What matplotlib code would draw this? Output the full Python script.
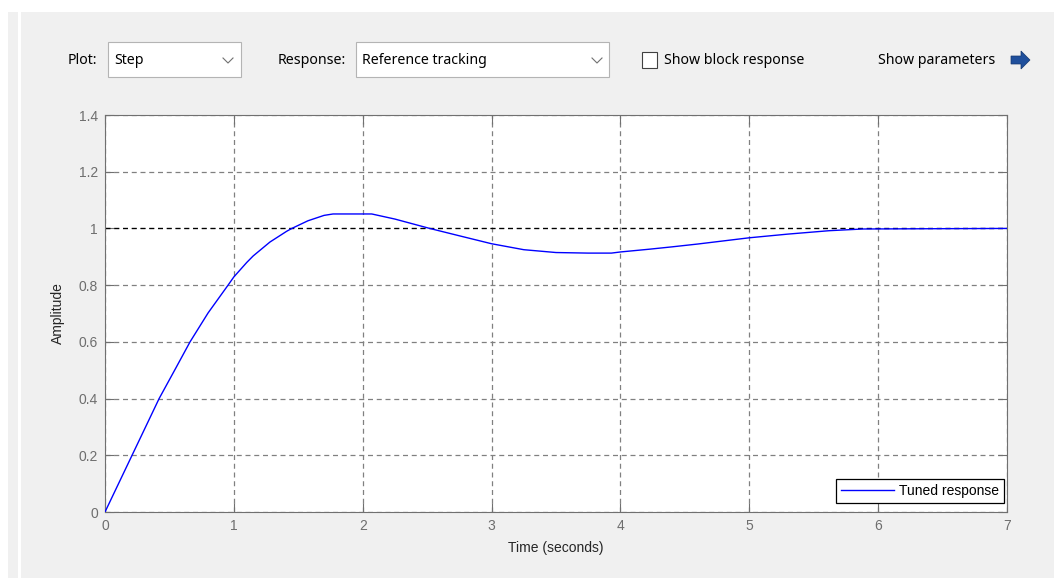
import matplotlib.pyplot as plt
from matplotlib.patches import Rectangle, Polygon
from matplotlib.lines import Line2D

# step response
t = [0, 0.21, 0.42, 0.55, 0.66, 0.8, 0.955, 1.0, 1.1, 1.15, 1.28, 1.41, 1.45,
     1.575, 1.7, 1.77, 2.07, 2.25, 2.52, 2.75, 3.0, 3.25, 3.5, 3.75, 3.93,
     4.0, 4.23, 4.4, 4.6, 4.8, 5.0, 5.3, 5.62, 5.88, 7.0]
amp = [0, 0.2, 0.4, 0.508, 0.6, 0.702, 0.8, 0.829, 0.88, 0.903, 0.952, 0.99, 1.0,
       1.027, 1.046, 1.051, 1.051, 1.033, 1.0, 0.974, 0.946, 0.925, 0.915, 0.913, 0.913,
       0.917, 0.927, 0.935, 0.945, 0.956, 0.967, 0.98, 0.992, 0.998, 1.0]
x_ticks = [0, 1, 2, 3, 4, 5, 6, 7]
y_ticks = [0, 0.2, 0.4, 0.6, 0.8, 1, 1.2, 1.4]
y_labels = ["0", "0.2", "0.4", "0.6", "0.8", "1", "1.2", "1.4"]

W, H = 1054, 578
fig = plt.figure(figsize=(W / 100, H / 100), dpi=100, facecolor="#f0f0f0")

#helpers to place things in pixel coords (origin top-left)
def fx(px):
    return px / W

def fy(py):
    return 1 - py / H

def rect(x0, y0, x1, y1, fc, ec="none", lw=0):
    fig.patches.append(Rectangle((fx(x0), fy(y1)), fx(x1) - fx(x0), fy(y0) - fy(y1),
                                 transform=fig.transFigure, facecolor=fc,
                                 edgecolor=ec, linewidth=lw))

# white frame bits around the panel
rect(0, 0, W, 12, "white")
rect(0, 0, 8, H, "white")
rect(18, 12, 21, H, "white")

ui_font = "Noto Sans"
ui_size = 10.2

# toolbar
fig.text(fx(68), fy(60), "Plot:", fontsize=ui_size, family=ui_font, va="center")
rect(108, 42, 241, 77, "white", "#b4b4b4", 0.8)
fig.text(fx(114), fy(60), "Step", fontsize=ui_size, family=ui_font, va="center")
fig.text(fx(278), fy(60), "Response:", fontsize=ui_size, family=ui_font, va="center")
rect(356, 42, 609, 77, "white", "#b4b4b4", 0.8)
fig.text(fx(362), fy(60), "Reference tracking", fontsize=ui_size, family=ui_font, va="center")
for cx in (228, 597):
    fig.lines.append(Line2D([fx(cx - 5), fx(cx), fx(cx + 5)], [fy(58), fy(63), fy(58)],
                            transform=fig.transFigure, color="#707070", lw=0.8))
rect(642, 52, 657, 68, "white", "#404040", 0.8)
fig.text(fx(664), fy(60), "Show block response", fontsize=ui_size, family=ui_font, va="center")
fig.text(fx(878), fy(60), "Show parameters", fontsize=ui_size, family=ui_font, va="center")
arrow = [(1011, 56), (1021, 56), (1021, 51), (1030, 60), (1021, 69), (1021, 64), (1011, 64)]
fig.patches.append(Polygon([(fx(a), fy(b)) for a, b in arrow], closed=True,
                           transform=fig.transFigure, facecolor="#1f4f9c", edgecolor="#15386f", lw=0.5))

# axes
ax = fig.add_axes([fx(105), fy(512), fx(1007) - fx(105), fy(115) - fy(512)])
ax.set_facecolor("white")
ax.plot(t, amp, color="#0000ff", lw=1.0, label="Tuned response", zorder=3)
ax.axhline(1, color="black", lw=0.9, linestyle=(0, (4, 3)), zorder=2)

ax.set_xlim(0, 7)
ax.set_ylim(0, 1.4)
ax.set_xticks(x_ticks)
ax.set_yticks(y_ticks)
ax.set_yticklabels(y_labels)
ax.grid(True, color="#808080", lw=0.9, linestyle=(0, (4, 3)))
ax.tick_params(direction="in", length=6.5, width=0.8, color="#707070",
               labelcolor="#6e6e6e", labelsize=10, top=True, right=True, pad=5)
for lab in ax.get_xticklabels() + ax.get_yticklabels():
    lab.set_family("Liberation Sans")
for s in ax.spines.values():
    s.set_color("#707070")
    s.set_linewidth(0.8)

ax.set_xlabel("Time (seconds)", fontsize=10, family="Liberation Sans", color="#262626", labelpad=6)
ax.set_ylabel("Amplitude", fontsize=10, family="Liberation Sans", color="#262626", labelpad=10)

leg = ax.legend(loc="lower right", bbox_to_anchor=(0.9967, 0.0227), borderaxespad=0,
                fancybox=False, framealpha=1, edgecolor="black", handlelength=3.8,
                handletextpad=0.4, borderpad=0.35,
                prop={"family": "Liberation Sans", "size": 10})
leg.get_frame().set_linewidth(0.9)

fig.savefig("out.png", dpi=100, facecolor=fig.get_facecolor())
